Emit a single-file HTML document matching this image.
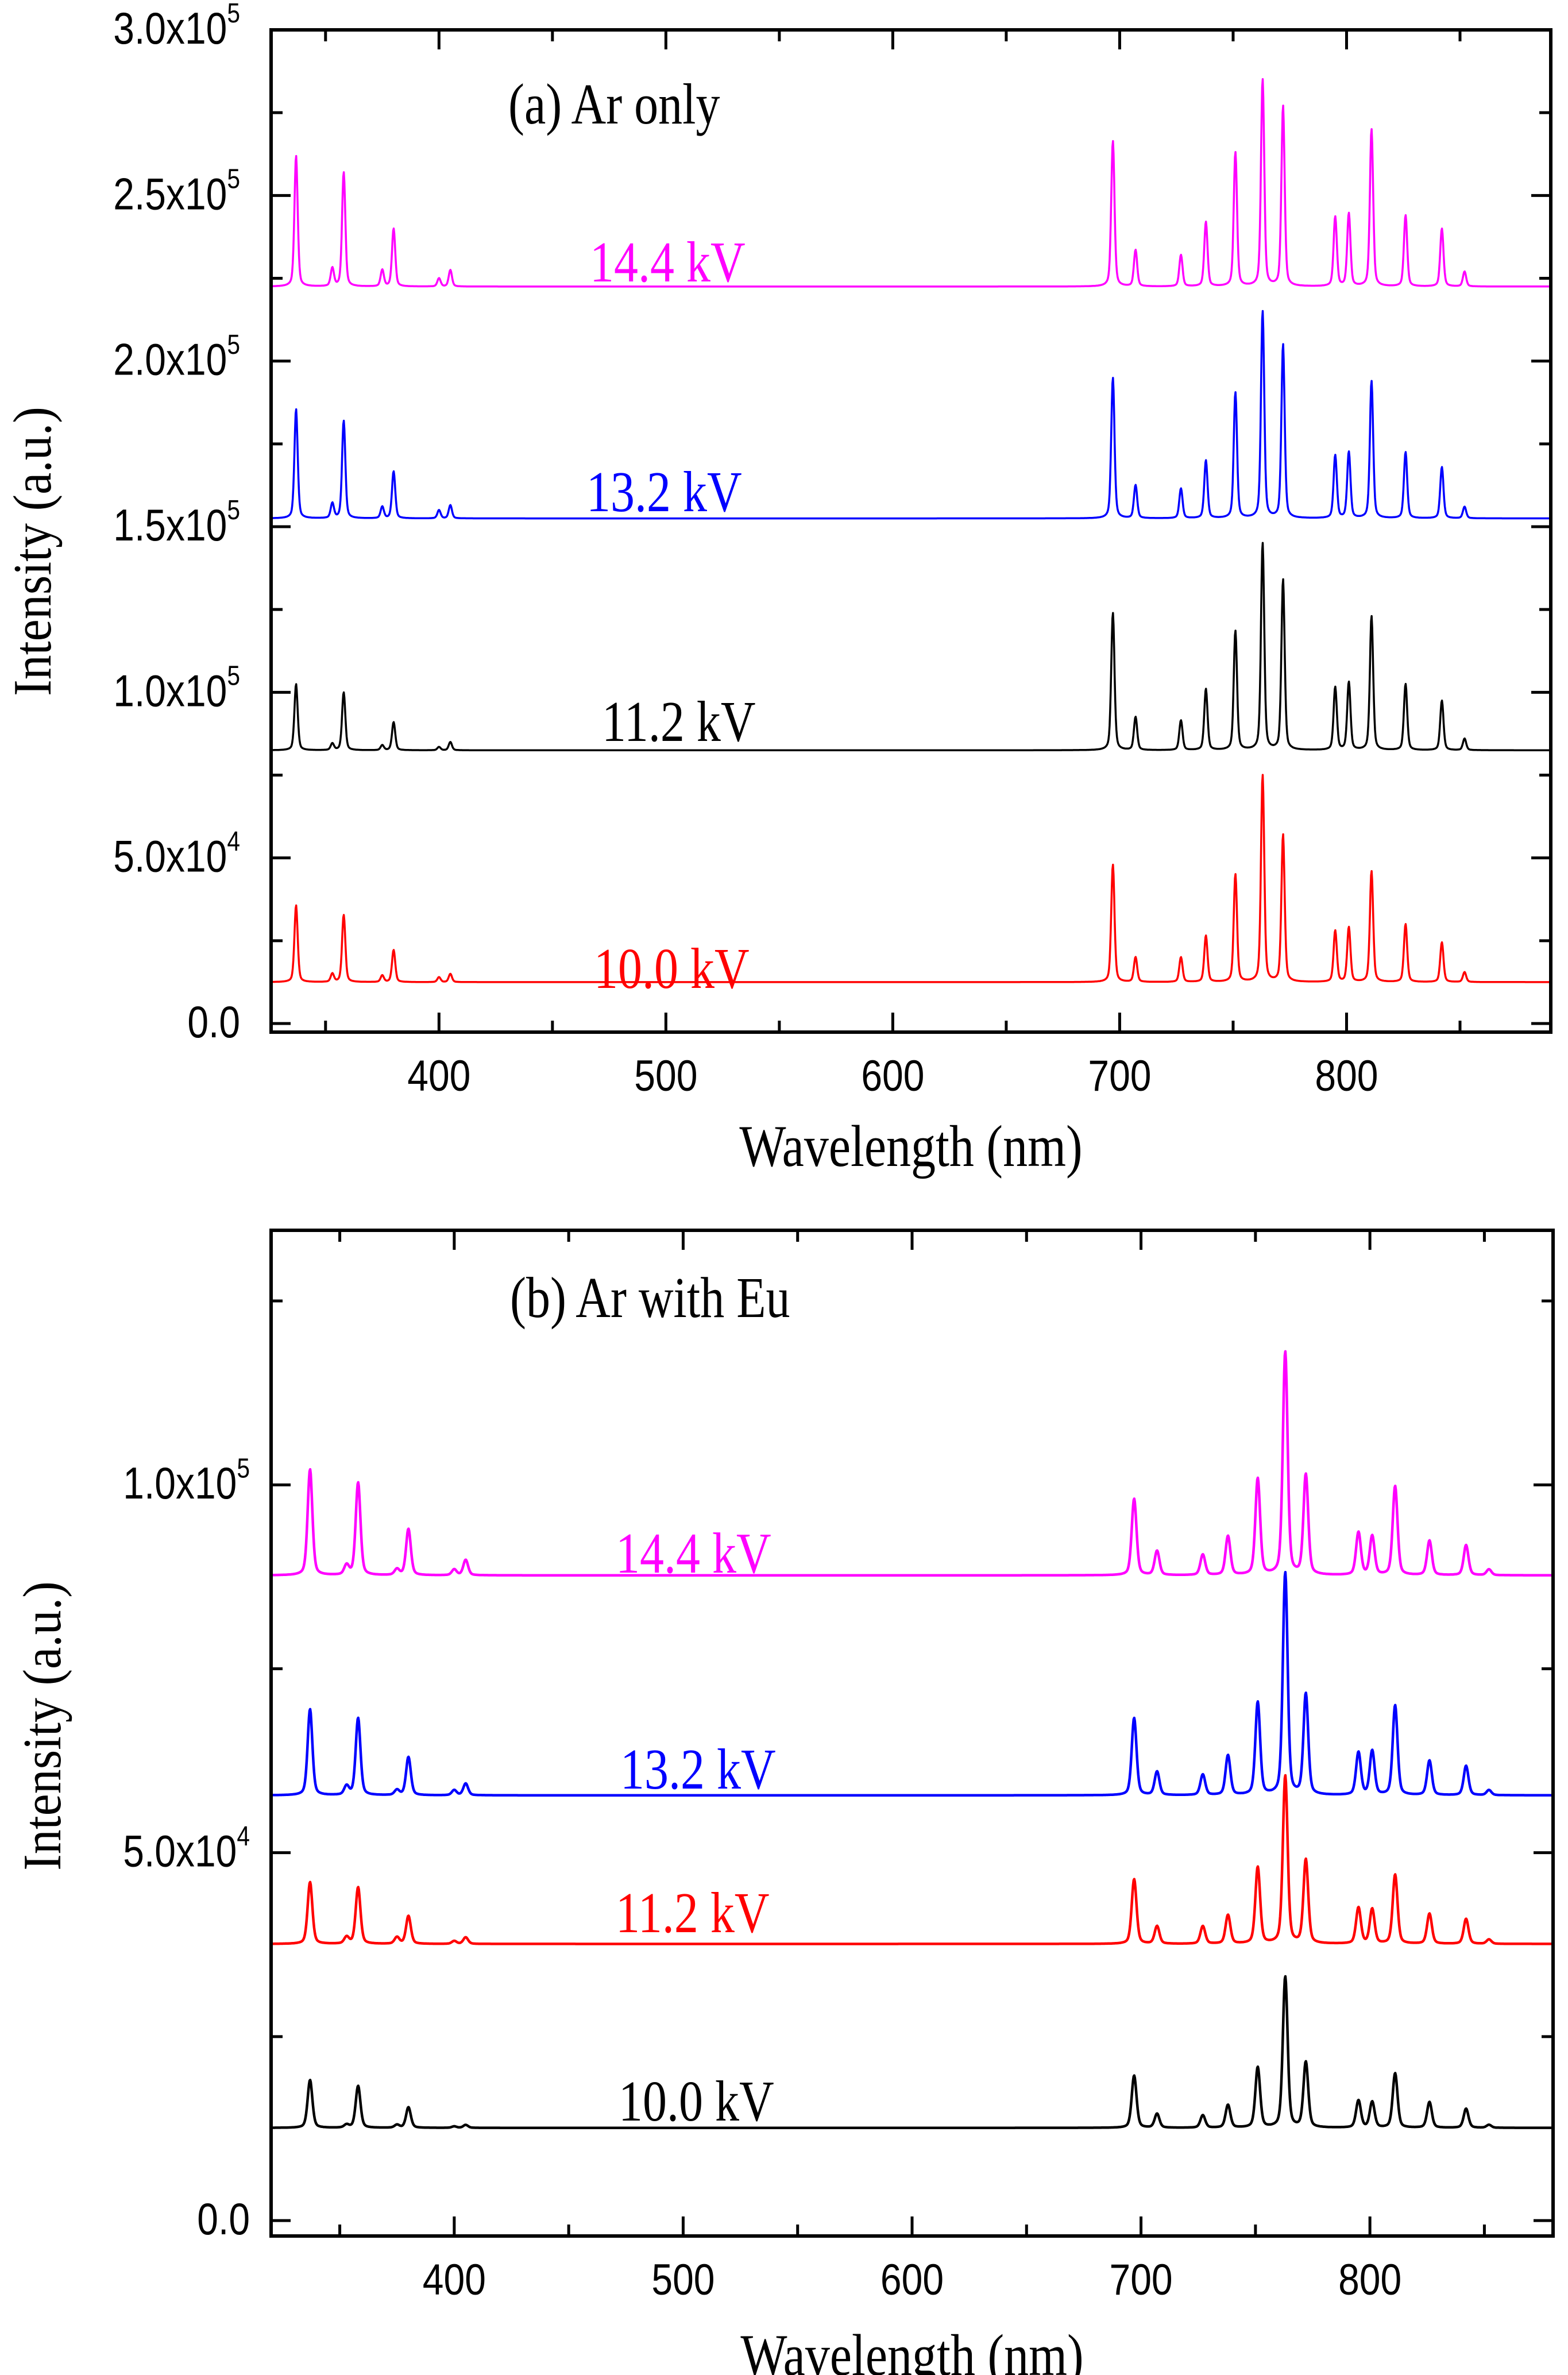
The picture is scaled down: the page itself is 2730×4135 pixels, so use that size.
<!DOCTYPE html>
<html><head><meta charset="utf-8"><style>
html,body{margin:0;padding:0;background:#fff;}
svg{display:block;}
</style></head><body>
<svg id="chart" width="2730" height="4135" viewBox="0 0 2730 4135" xmlns="http://www.w3.org/2000/svg">
<rect width="2730" height="4135" fill="#fff"/>
<g id="pa"></g>
<g id="pb"></g>
</svg>
<script>
// ---- data ----
const lineWavelengths = [337, 353, 358, 375, 380, 400, 405, 697, 707, 727, 738, 751, 763, 772, 795, 801, 811, 826, 842, 852];
const aLabels = ["14.4 kV", "13.2 kV", "11.2 kV", "10.0 kV"];
const aColors = ["#ff00ff", "#0000ff", "#000000", "#ff0000"];
const aBaselines = [2.225, 1.525, 0.825, 0.125];
const aPeaks144 = [2.62, 2.28, 2.57, 2.275, 2.40, 2.25, 2.275, 2.665, 2.335, 2.32, 2.42, 2.63, 2.85, 2.77, 2.435, 2.445, 2.70, 2.44, 2.40, 2.27];
const aPeaks132 = [1.855, 1.57, 1.82, 1.56, 1.667, 1.55, 1.565, 1.95, 1.625, 1.615, 1.70, 1.905, 2.15, 2.05, 1.715, 1.725, 1.94, 1.725, 1.68, 1.56];
const aPeaks112 = [1.025, 0.845, 1.0, 0.84, 0.91, 0.835, 0.85, 1.24, 0.925, 0.915, 1.01, 1.185, 1.45, 1.34, 1.015, 1.03, 1.23, 1.025, 0.975, 0.86];
const aPeaks100 = [0.357, 0.15, 0.328, 0.145, 0.222, 0.14, 0.15, 0.48, 0.20, 0.20, 0.265, 0.45, 0.75, 0.57, 0.28, 0.29, 0.46, 0.30, 0.245, 0.155];
const bLabels = ["14.4 kV", "13.2 kV", "11.2 kV", "10.0 kV"];
const bColors = ["#ff00ff", "#0000ff", "#ff0000", "#000000"];
const bBaselines = [0.877, 0.578, 0.376, 0.126];
const bPeaks144 = [1.021, 0.89, 1.003, 0.885, 0.94, 0.885, 0.898, 0.981, 0.91, 0.905, 0.93, 1.008, 1.18, 1.013, 0.935, 0.93, 0.998, 0.924, 0.918, 0.885];
const bPeaks132 = [0.695, 0.59, 0.683, 0.585, 0.63, 0.585, 0.594, 0.683, 0.61, 0.606, 0.632, 0.704, 0.88, 0.715, 0.636, 0.638, 0.70, 0.625, 0.618, 0.585];
const bPeaks112 = [0.46, 0.385, 0.453, 0.385, 0.414, 0.38, 0.385, 0.464, 0.40, 0.40, 0.415, 0.48, 0.604, 0.49, 0.425, 0.423, 0.47, 0.417, 0.41, 0.382];
const bPeaks100 = [0.191, 0.13, 0.183, 0.13, 0.154, 0.128, 0.13, 0.197, 0.145, 0.143, 0.157, 0.208, 0.331, 0.215, 0.163, 0.161, 0.20, 0.161, 0.152, 0.13];
const xTicks = [400, 500, 600, 700, 800];
const aYTicks = [0, 0.5, 1.0, 1.5, 2.0, 2.5, 3.0];
const aYTickMant = ["0.0", "5.0x10", "1.0x10", "1.5x10", "2.0x10", "2.5x10", "3.0x10"];
const aYTickExp = ["", "4", "5", "5", "5", "5", "5"];
const bYTicks = [0, 0.5, 1.0];
const bYTickMant = ["0.0", "5.0x10", "1.0x10"];
const bYTickExp = ["", "4", "5"];

const NS = "http://www.w3.org/2000/svg";
function mk(tag, attrs, parent){ const e=document.createElementNS(NS,tag); for(const k in attrs) e.setAttribute(k,attrs[k]); parent.appendChild(e); return e; }

function drawPanel(g, cfg){
  const {L,R,T,B,x0,x1,y0,y1} = cfg;
  const sx = v => L + (v-x0)/(x1-x0)*(R-L);
  const sy = v => B - (v-y0)/(y1-y0)*(B-T);
  cfg.series.forEach((peaks,si)=>{
    const base = cfg.baselines[si];
    let d = "";
    for(let w=x0+0.3; w<=x1-0.3; w+=0.25){
      let v = base;
      lineWavelengths.forEach((lw,i)=>{
        const h = peaks[i]-base; if(h<=0) return;
        const u=(w-lw)/cfg.gamma;
        v += h*(0.65*Math.exp(-u*u*1.2) + 0.35/(1+u*u*1.5));
      });
      d += (d?"L":"M")+sx(w).toFixed(1)+","+sy(v).toFixed(1);
    }
    const p = mk("path",{d:d,fill:"none",stroke:cfg.colors[si],"stroke-width":cfg.sw,"stroke-linejoin":"round"},g);
    
    
    const lp = cfg.labelPos[si];
    const t = mk("text",{x:lp[0],y:lp[1],fill:cfg.colors[si],"font-family":"Liberation Serif, serif","font-size":"84",transform:`translate(${lp[0]},${lp[1]}) scale(1,1.2) translate(${-lp[0]},${-lp[1]})`},g);
    t.textContent = cfg.labels[si];
    
    
  });
  const fr = mk("rect",{x:L,y:T,width:R-L,height:B-T,fill:"none",stroke:"#000","stroke-width":6},g);
  
  
  for(let v=350; v<x1; v+=50){
    const major = v%100===0, len = major?34:20, X=sx(v);
    mk("line",{x1:X,x2:X,y1:B,y2:B-len,stroke:"#000","stroke-width":5},g);
    mk("line",{x1:X,x2:X,y1:T,y2:T+len,stroke:"#000","stroke-width":5},g);
  }
  xTicks.forEach(v=>{
    const X=sx(v), Y=B+102;
    const t = mk("text",{x:X,y:Y,"text-anchor":"middle","font-family":"Liberation Sans, sans-serif","font-size":"66",transform:`translate(${X},${Y}) scale(1,1.15) translate(${-X},${-Y})`},g);
    t.textContent = v;
    
    
  });
  for(let v=0; v<=y1; v+=cfg.ystep/2){
    const major = Math.abs((v/cfg.ystep)-Math.round(v/cfg.ystep))<1e-6, len = major?34:20, Y=sy(v);
    mk("line",{x1:L,x2:L+len,y1:Y,y2:Y,stroke:"#000","stroke-width":5},g);
    mk("line",{x1:R,x2:R-len,y1:Y,y2:Y,stroke:"#000","stroke-width":5},g);
  }
  cfg.yTicks.forEach((v,i)=>{
    const Y=sy(v)+24, X=cfg.labelRight;
    const t = mk("text",{x:X,y:Y,"text-anchor":"end","font-family":"Liberation Sans, sans-serif","font-size":"68",transform:`translate(${X},${Y}) scale(0.97,1.15) translate(${-X},${-Y})`},g);
    
    
    const m = mk("tspan",{},t); m.textContent = cfg.yMant[i];
    if(cfg.yExp[i]){ const s = mk("tspan",{dy:"-32","font-size":"42"},t); s.textContent = cfg.yExp[i]; }
  });
  const tp = cfg.titlePos;
  const ti = mk("text",{x:tp[0],y:tp[1],"font-family":"Liberation Serif, serif","font-size":"84",transform:`translate(${tp[0]},${tp[1]}) scale(1,1.2) translate(${-tp[0]},${-tp[1]})`},g);
  ti.textContent = cfg.title;
  
  
  const cx=(L+R)/2;
  const xt = mk("text",{x:cx,y:cfg.xTitleY,"text-anchor":"middle","font-family":"Liberation Serif, serif","font-size":"86",transform:`translate(${cx},${cfg.xTitleY}) scale(1,1.2) translate(${-cx},${-cfg.xTitleY})`},g);
  xt.textContent = "Wavelength (nm)";
  
  
  const yt = mk("text",{x:0,y:0,"text-anchor":"middle","font-family":"Liberation Serif, serif","font-size":"86",transform:`translate(${cfg.yTitlePos[0]},${cfg.yTitlePos[1]}) rotate(-90) scale(1,1.1)`},g);
  yt.textContent = "Intensity (a.u.)";
  
  
}

drawPanel(document.getElementById("pa"),{
  L:472,R:2700,T:52,B:1797,x0:326,x1:890,y0:-0.026,y1:3.0,
  ystep:0.5, yTicks:aYTicks, yMant:aYTickMant, yExp:aYTickExp, labelRight:418,
  series:[aPeaks144,aPeaks132,aPeaks112,aPeaks100], baselines:aBaselines, colors:aColors, labels:aLabels,
  labelPos:[[1027,490],[1021,890],[1048,1290],[1034,1720]], gamma:1.1, sw:3.5,
  title:"(a) Ar only", titlePos:[885,215], xTitleY:2030, yTitlePos:[88,960]
});
drawPanel(document.getElementById("pb"),{
  L:472,R:2704,T:2142,B:3893,x0:320,x1:880,y0:-0.021,y1:1.346,
  ystep:0.5, yTicks:bYTicks, yMant:bYTickMant, yExp:bYTickExp, labelRight:435,
  series:[bPeaks144,bPeaks132,bPeaks112,bPeaks100], baselines:bBaselines, colors:bColors, labels:bLabels,
  labelPos:[[1072,2738],[1080,3114],[1072,3364],[1077,3692]], gamma:1.6, sw:4.5,
  title:"(b) Ar with Eu", titlePos:[888,2293], xTitleY:4135, yTitlePos:[105,3005]
});
</script>
</body></html>
